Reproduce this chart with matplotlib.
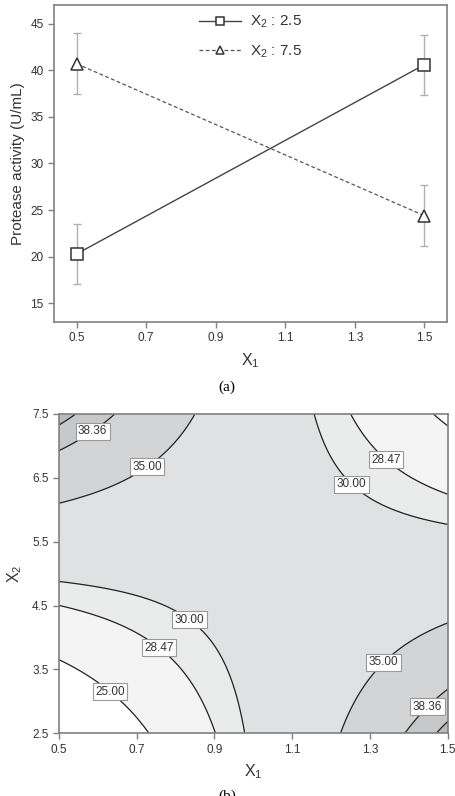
import matplotlib
matplotlib.use("Agg")
import matplotlib.pyplot as plt
import numpy as np

plt.rcParams['font.family'] = ['Liberation Sans', 'DejaVu Sans']
plt.rcParams['mathtext.fontset'] = 'custom'
plt.rcParams['mathtext.rm'] = 'Liberation Sans'
plt.rcParams['mathtext.it'] = 'Liberation Sans'

# data
x1_levels = [0.5, 1.5]
act_x2_low = [20.3, 40.6]     # X2 = 2.5
err_x2_low = [3.2, 3.2]
act_x2_high = [40.7, 24.4]    # X2 = 7.5
err_x2_high = [3.25, 3.3]
x2_levels = [2.5, 7.5]
contour_levels = [25.0, 28.47, 30.0, 35.0, 38.36, 40.0]
label_levels = [25.0, 28.47, 30.0, 35.0, 38.36]
label_pos = [(0.58, 7.29), (0.72, 6.73), (1.35, 6.84), (1.264, 6.47),
             (0.84, 4.32), (0.763, 3.88), (0.637, 3.2), (1.332, 3.63),
             (1.443, 2.95)]
fill_colors = ['#ffffff', '#f4f4f4', '#eaebeb', '#dfe1e3', '#d2d4d6',
               '#c6c8ca', '#b8babc']

W, H = 456, 796
fig = plt.figure(figsize=(W / 100, H / 100), dpi=100)

tick_col = '#333333'
spine_col = '#808080'

# ---- (a) interaction plot
ax = fig.add_axes([54 / W, 1 - 322 / H, 393 / W, 317 / H])
ax.errorbar(x1_levels, act_x2_low, yerr=err_x2_low, fmt='none',
            ecolor='#b0b0b0', elinewidth=1.0, capsize=3, capthick=1.0)
ax.errorbar(x1_levels, act_x2_high, yerr=err_x2_high, fmt='none',
            ecolor='#b0b0b0', elinewidth=1.0, capsize=3, capthick=1.0)
ax.plot(x1_levels, act_x2_low, '-', color='#444444', lw=1.0, marker='s',
        ms=8, mfc='white', mec='#333333', mew=1.1, label='X$_2$ : 2.5')
ax.plot(x1_levels, act_x2_high, '--', color='#555555', lw=0.9,
        dashes=(3, 2), marker='^', ms=8.5, mfc='white', mec='#333333',
        mew=1.1, label='X$_2$ : 7.5')
ax.set_xlim(0.435, 1.565)
ax.set_ylim(13, 47)
ax.set_xticks(np.arange(0.5, 1.51, 0.2))
ax.set_xticklabels(['0.5', '0.7', '0.9', '1.1', '1.3', '1.5'])
ax.set_yticks(range(15, 46, 5))
ax.tick_params(direction='out', length=4, width=1, colors=spine_col,
               labelcolor=tick_col, labelsize=8.5)
for s in ax.spines.values():
    s.set_color(spine_col)
    s.set_linewidth(1.2)
ax.set_ylabel('Protease activity (U/mL)', fontsize=11, color='#333333',
              labelpad=4)
ax.set_xlabel('X$_1$', fontsize=11.5, color='#333333', labelpad=5)
leg = ax.legend(loc='upper center', frameon=False, fontsize=11,
                handlelength=2.8, handletextpad=0.6, markerscale=0.65,
                labelspacing=0.85, bbox_to_anchor=(0.5, 1.015))
for t in leg.get_texts():
    t.set_color('#333333')
fig.text(227 / W, 1 - 387 / H, '(a)', ha='center', va='center',
         fontsize=11, family='Liberation Serif')

# ---- (b) contour plot, bilinear surface through the four corner means
ax2 = fig.add_axes([59 / W, 1 - 733.3 / H, 388.7 / W, 319.3 / H])
gx = np.linspace(x1_levels[0], x1_levels[1], 201)
gy = np.linspace(x2_levels[0], x2_levels[1], 201)
X, Y = np.meshgrid(gx, gy)
u = (X - x1_levels[0]) / (x1_levels[1] - x1_levels[0])
v = (Y - x2_levels[0]) / (x2_levels[1] - x2_levels[0])
Z = (act_x2_low[0] * (1 - u) * (1 - v) + act_x2_low[1] * u * (1 - v)
     + act_x2_high[0] * (1 - u) * v + act_x2_high[1] * u * v)
fill_lv = [0] + contour_levels + [100]
ax2.contourf(X, Y, Z, levels=fill_lv, colors=fill_colors)
cs = ax2.contour(X, Y, Z, levels=contour_levels, colors='#222222',
                 linewidths=0.9)
labels = ax2.clabel(cs, levels=label_levels, manual=label_pos, fmt='%.2f',
                    fontsize=8.5, inline=False)
for t in labels:
    t.set_rotation(0)
    t.set_color('#333333')
    t.set_zorder(5)
    t.set_bbox(dict(facecolor='white', edgecolor='#999999', lw=0.8,
                    pad=1.8))
ax2.set_xlim(0.5, 1.5)
ax2.set_ylim(2.5, 7.5)
ax2.set_xticks(np.arange(0.5, 1.51, 0.2))
ax2.set_xticklabels(['0.5', '0.7', '0.9', '1.1', '1.3', '1.5'])
ax2.set_yticks(np.arange(2.5, 7.51, 1.0))
ax2.set_yticklabels(['2.5', '3.5', '4.5', '5.5', '6.5', '7.5'])
ax2.tick_params(direction='out', length=4, width=1, colors=spine_col,
                labelcolor=tick_col, labelsize=8.5)
for s in ax2.spines.values():
    s.set_color(spine_col)
    s.set_linewidth(1.2)
ax2.set_xlabel('X$_1$', fontsize=11.5, color='#333333', labelpad=5)
ax2.set_ylabel('X$_2$', fontsize=11.5, color='#333333', labelpad=6)
fig.text(227 / W, 1 - 796 / H, '(b)', ha='center', va='center',
         fontsize=11, family='Liberation Serif')

fig.savefig('out.png', dpi=100)
